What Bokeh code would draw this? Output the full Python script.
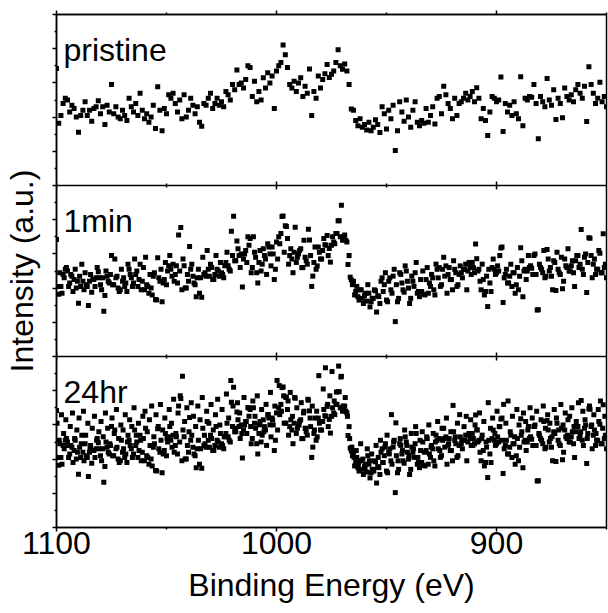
import numpy as np
from bokeh.plotting import figure
from bokeh.models import FixedTicker, Span, Label, LinearAxis, ColumnDataSource
from bokeh.embed import file_html
from bokeh.resources import INLINE

# ---------------- data (intensity in arbitrary units, per panel 0..5) ----------------
energy_start = 1100.0
energy_step = 1.0

# pristine scan: 1100 -> 850 eV, 1 eV steps
pristine = [
    3.42, 1.82, 2.05, 2.40, 2.55, 2.50, 2.15, 2.35, 2.25, 2.00,
    1.56, 2.05, 2.20, 2.45, 2.05, 2.20, 1.88, 2.25, 2.30, 2.48,
    2.10, 2.30, 1.78, 2.35, 2.15, 2.95, 2.10, 2.30, 2.00, 1.95,
    2.20, 2.05, 1.90, 2.55, 2.30, 2.15, 2.40, 2.05, 2.70, 2.20,
    1.95, 2.10, 1.85, 2.00, 2.35, 1.67, 2.89, 2.20, 1.60, 2.25,
    2.10, 2.65, 2.55, 2.70, 2.40, 2.15, 2.50, 1.95, 2.65, 2.00,
    2.20, 2.55, 2.35, 2.10, 2.30, 1.85, 1.73, 2.40, 2.35, 2.55,
    2.70, 2.25, 2.40, 2.55, 2.35, 2.45, 2.30, 2.75, 2.65, 2.50,
    2.95, 2.80, 3.38, 2.95, 3.00, 2.85, 3.10, 3.50, 3.45, 2.60,
    3.05, 2.45, 2.75, 2.50, 3.15, 2.85, 3.30, 3.00, 3.20, 2.25,
    3.35, 3.50, 3.60, 4.11, 3.82, 3.45, 2.95, 2.85, 3.05, 2.75,
    3.00, 3.15, 2.60, 2.90, 2.70, 3.41, 2.05, 2.75, 2.55, 3.20,
    2.85, 3.10, 3.27, 3.54, 3.16, 3.25, 3.35, 3.60, 3.97, 3.50,
    3.40, 3.55, 3.35, 2.95, 2.24, 2.20, 1.90, 1.75, 1.95, 1.70,
    1.78, 1.62, 1.85, 1.60, 1.70, 1.92, 1.78, 1.55, 2.30, 2.10,
    1.65, 2.20, 1.95, 2.35, 1.02, 1.60, 2.45, 2.15, 1.88, 2.50,
    2.00, 1.70, 2.20, 2.45, 1.85, 1.75, 1.90, 1.82, 2.25, 1.85,
    2.05, 2.30, 1.80, 2.55, 2.60, 2.10, 2.90, 2.65, 2.40, 2.25,
    1.95, 2.55, 2.05, 2.40, 2.45, 2.55, 2.70, 2.50, 2.60, 2.75,
    2.45, 2.86, 2.55, 1.95, 2.25, 1.90, 1.46, 2.15, 2.60, 2.55,
    2.45, 2.50, 3.17, 1.58, 2.40, 2.15, 2.35, 2.05, 2.45, 2.10,
    1.95, 3.18, 1.75, 2.55, 2.50, 2.60, 2.58, 2.95, 2.40, 1.37,
    2.60, 2.45, 2.30, 3.13, 2.50, 2.35, 2.80, 1.93, 2.55, 2.40,
    1.98, 2.85, 2.60, 2.50, 2.65, 2.45, 2.80, 2.95, 2.70, 2.55,
    2.90, 1.87, 3.47, 2.95, 2.70, 2.40, 2.55, 3.02, 2.45, 2.60,
    2.30,
]

# extra points recorded in the 1 min scan (1099.5 -> 850.5 eV)
min1_start = 1099.5
min1_extra = [
    2.05, 2.45, 1.85, 2.30, 2.60, 2.05, 2.40, 1.90, 2.55, 2.20,
    2.35, 2.70, 1.95, 2.10, 1.49, 2.40, 2.25, 2.05, 2.60, 2.30,
    1.95, 1.32, 2.50, 2.20, 2.40, 2.10, 2.85, 2.35, 1.90, 2.55,
    2.30, 2.15, 2.70, 2.40, 2.05, 2.85, 2.50, 2.25, 1.95, 2.60,
    2.90, 2.05, 2.40, 1.80, 2.45, 1.65, 2.30, 2.55, 2.15, 2.75,
    2.50, 2.95, 2.35, 2.20, 2.65, 3.55, 3.77, 2.85, 2.00, 2.40,
    3.22, 2.70, 2.15, 1.75, 2.55, 2.30, 2.90, 2.45, 3.10, 2.35,
    2.60, 2.25, 2.95, 2.50, 2.75, 2.40, 2.65, 3.05, 2.55, 3.66,
    4.10, 2.80, 3.15, 2.60, 2.03, 3.00, 2.75, 3.25, 2.45, 3.50,
    2.90, 2.15, 3.10, 2.70, 2.95, 2.40, 3.20, 2.65, 3.00, 2.55,
    2.85, 3.30, 4.09, 3.05, 3.80, 2.70, 3.15, 2.45, 3.78, 2.90,
    3.10, 2.60, 3.40, 2.80, 3.72, 2.95, 2.35, 3.20, 2.65, 3.05,
    2.85, 3.45, 3.25, 2.95, 2.76, 3.50, 3.30, 3.60, 3.97, 4.42,
    3.50, 3.40, 2.69, 2.32, 2.10, 1.80, 2.05, 1.65, 1.95, 1.55,
    1.85, 2.10, 1.45, 1.70, 1.95, 1.30, 1.75, 2.20, 1.90, 2.45,
    1.60, 2.30, 1.85, 2.55, 2.10, 1.70, 2.40, 1.95, 2.65, 2.20,
    1.55, 2.35, 2.05, 2.75, 1.90, 2.25, 2.50, 1.80, 2.60, 2.15,
    2.40, 1.95, 2.70, 2.30, 2.05, 2.55, 2.35, 1.85, 2.60, 2.25,
    2.80, 2.45, 2.10, 2.65, 2.30, 2.55, 1.95, 2.75, 2.40, 2.60,
    3.29, 2.50, 2.20, 2.70, 1.80, 2.35, 2.55, 1.90, 2.85, 2.40,
    2.65, 2.95, 3.20, 2.30, 2.55, 2.15, 2.70, 2.45, 1.85, 2.60,
    2.35, 2.80, 2.50, 2.25, 2.95, 2.65, 2.40, 3.00, 1.36, 2.70,
    2.55, 3.10, 2.35, 2.85, 2.60, 1.95, 2.75, 3.05, 2.45, 2.90,
    2.20, 2.65, 3.15, 2.50, 2.80, 2.05, 2.95, 2.60, 3.71, 2.40,
    3.00, 2.75, 3.46, 2.30, 2.85, 2.55, 3.10, 2.45, 3.59, 2.70,
]

# extra points recorded in the 24 hr scan (1099.75 -> 850.75 eV)
hr24_start = 1099.75
hr24_extra = [
    3.05, 2.55, 3.30, 2.75, 3.15, 2.40, 2.95, 3.35, 2.60, 2.85,
    3.20, 2.45, 3.40, 2.70, 3.05, 2.30, 2.90, 3.25, 2.55, 2.80,
    3.10, 2.65, 3.35, 2.90, 2.45, 3.20, 2.75, 3.45, 2.60, 3.00,
    2.85, 3.30, 2.50, 3.15, 2.95, 3.50, 2.70, 3.05, 2.55, 3.25,
    3.40, 2.80, 3.15, 3.55, 2.65, 3.30, 2.95, 3.60, 2.85, 3.20,
    2.60, 3.45, 3.05, 3.75, 2.75, 3.35, 3.85, 4.42, 3.10, 3.50,
    2.80, 3.65, 3.25, 2.95, 3.55, 3.15, 3.80, 2.70, 3.40, 3.05,
    3.60, 2.85, 3.30, 3.75, 3.00, 3.45, 2.65, 3.90, 3.20, 4.30,
    3.55, 2.90, 3.65, 3.35, 2.75, 3.80, 3.10, 3.50, 2.95, 3.70,
    3.25, 3.85, 3.00, 3.45, 2.80, 3.60, 3.30, 3.95, 3.15, 3.55,
    4.30, 4.15, 3.40, 3.85, 3.05, 3.70, 3.95, 3.25, 3.80, 3.50,
    3.00, 3.65, 3.35, 2.90, 3.75, 3.20, 3.55, 2.85, 3.40, 4.44,
    3.10, 4.05, 4.67, 3.60, 3.85, 4.56, 3.70, 3.96, 4.72, 4.40,
    3.55, 3.80, 3.25, 2.60, 2.35, 2.05, 2.25, 1.85, 2.45, 2.00,
    1.75, 2.30, 1.95, 2.15, 1.65, 2.40, 2.05, 2.55, 1.90, 2.35,
    2.70, 2.15, 3.30, 2.50, 3.06, 1.95, 2.60, 2.25, 2.85, 2.40,
    2.10, 2.75, 2.30, 2.95, 2.05, 2.55, 2.80, 2.20, 2.65, 3.00,
    2.35, 2.75, 2.50, 3.10, 2.25, 2.90, 2.60, 3.20, 2.45, 2.80,
    3.57, 2.65, 3.05, 3.30, 2.55, 2.95, 3.25, 2.70, 3.15, 2.40,
    3.00, 2.85, 3.35, 2.60, 3.10, 2.50, 3.65, 2.90, 3.20, 2.75,
    3.40, 2.95, 2.55, 3.60, 3.05, 3.70, 2.80, 3.25, 2.65, 3.45,
    3.00, 2.70, 3.35, 3.10, 2.85, 3.50, 3.20, 2.95, 3.40, 2.75,
    3.15, 3.55, 2.90, 3.30, 3.05, 2.65, 3.45, 3.20, 2.85, 3.60,
    3.00, 3.35, 2.70, 3.25, 3.50, 2.95, 3.10, 3.65, 2.80, 3.40,
    3.15, 2.60, 3.55, 3.00, 3.30, 2.75, 3.45, 3.70, 2.90, 3.25,
]

panel_labels = ["pristine", "1min", "24hr"]
x_major_ticks = [1100, 1000, 900]
x_minor_ticks = [1050, 950, 850]
x_tick_labels = ["1100", "1000", "900"]
x_title = "Binding Energy (eV)"
y_title = "Intensity (a.u.)"

# ---------------- build series ----------------
x_p = energy_start - energy_step * np.arange(len(pristine))
x_m = min1_start - energy_step * np.arange(len(min1_extra))
x_h = hr24_start - energy_step * np.arange(len(hr24_extra))
y_p = np.array(pristine)
y_m = np.array(min1_extra)
y_h = np.array(hr24_extra)

series = [
    (x_p, y_p),
    (np.concatenate([x_p, x_m]), np.concatenate([y_p, y_m])),
    (np.concatenate([x_p, x_m, x_h]), np.concatenate([y_p, y_m, y_h])),
]

PANEL_H = 5.0
n_panels = len(panel_labels)
FONT = "Liberation Sans"

p = figure(width=608, height=613, x_range=(1100, 850), y_range=(0, PANEL_H * n_panels),
           output_backend="svg", toolbar_location=None,
           min_border_left=56, min_border_right=2, min_border_top=14, min_border_bottom=86)
p.grid.visible = False
p.outline_line_color = "black"
p.outline_line_width = 1.5
p.background_fill_color = "white"
p.border_fill_color = "white"

for i, (xs, ys) in enumerate(series):
    offset = PANEL_H * (n_panels - 1 - i)
    src = ColumnDataSource(dict(x=xs, y=ys + offset))
    p.scatter("x", "y", source=src, marker="square", size=5,
              fill_color="black", line_color="black", line_width=0)
    p.add_layout(Label(x=1100 - 3.2, y=offset + PANEL_H - 1.03, text=panel_labels[i],
                       text_font=FONT, text_font_size="32px", text_color="black",
                       text_baseline="alphabetic", text_align="left"))

# panel separators
for k in range(1, n_panels):
    p.add_layout(Span(location=PANEL_H * k, dimension="width", line_color="black", line_width=1.5))

# tick marks on inner separators
sep_y = [PANEL_H * k for k in range(1, n_panels)]
p.scatter(x=[t for t in x_major_ticks for _ in sep_y], y=[s for _ in x_major_ticks for s in sep_y],
          marker="dash", angle=np.pi / 2, size=8, line_color="black", line_width=1.5)
p.scatter(x=[t for t in x_minor_ticks[:-1] for _ in sep_y], y=[s for _ in x_minor_ticks[:-1] for s in sep_y],
          marker="dash", angle=np.pi / 2, size=4, line_color="black", line_width=1.5)

xt = FixedTicker(ticks=x_major_ticks, minor_ticks=x_minor_ticks)
y_major = [float(k) for k in range(int(PANEL_H * n_panels) + 1)]
yt = FixedTicker(ticks=y_major, minor_ticks=[k + 0.5 for k in range(int(PANEL_H * n_panels))])

def style_axis(ax, labels=True, ticks=None):
    ax.axis_line_color = "black"
    ax.axis_line_width = 1.5
    ax.major_tick_line_color = "black"
    ax.minor_tick_line_color = "black"
    ax.major_tick_line_width = 1.5
    ax.minor_tick_line_width = 1.5
    ax.major_tick_in = 0
    ax.minor_tick_in = 0
    ax.major_tick_out = 4
    ax.minor_tick_out = 2
    ax.major_label_text_font = FONT
    ax.major_label_text_color = "black"
    ax.axis_label_text_font = FONT
    ax.axis_label_text_font_style = "normal"
    ax.axis_label_text_color = "black"
    ax.axis_label_text_font_size = "32px"
    if labels:
        ax.major_label_text_font_size = "32px"
    else:
        ax.major_label_overrides = {t: "" for t in ticks}
        ax.major_label_text_font_size = "0px"
        ax.major_label_standoff = 0

xa = p.xaxis[0]
xa.ticker = xt
xa.major_label_overrides = {t: s for t, s in zip(x_major_ticks, x_tick_labels)}
style_axis(xa, labels=True)
xa.major_label_standoff = 0
xa.axis_label = x_title
xa.axis_label_standoff = 10

ya = p.yaxis[0]
ya.ticker = yt
style_axis(ya, labels=False, ticks=y_major)
ya.axis_label = y_title
ya.axis_label_standoff = 13

top = LinearAxis(ticker=xt)
style_axis(top, labels=False, ticks=x_major_ticks)
p.add_layout(top, "above")

open("out.html", "w").write(file_html(p, INLINE))
